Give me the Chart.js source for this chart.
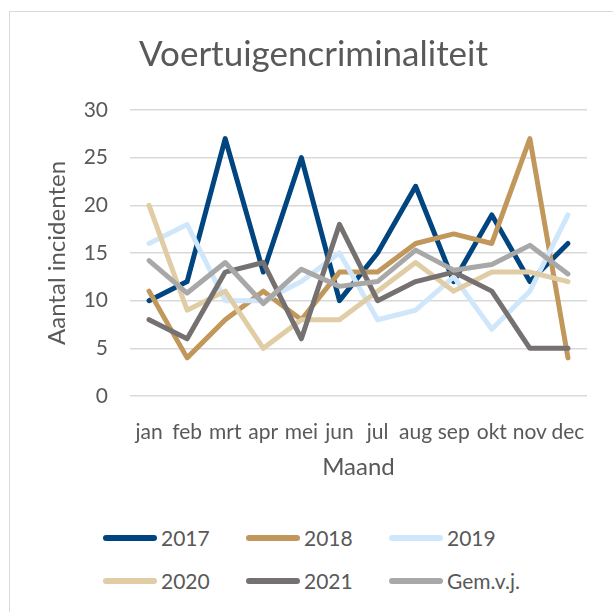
<!DOCTYPE html>
<html>
<head>
<meta charset="utf-8">
<script src="https://cdn.jsdelivr.net/npm/chart.js@4.4.1/dist/chart.umd.min.js"></script>
<style>
  html, body { margin: 0; padding: 0; background: #fff; overflow: hidden; }
  body { width: 613px; height: 612px; position: relative; font-family: Lato, sans-serif; }
  #frame { position: absolute; left: 9px; top: 11px; width: 700px; height: 700px; border: 1px solid #d9d9d9; box-sizing: border-box; }
  #wrap { position: absolute; left: 0; top: 0; width: 613px; height: 490px; }
  #legend { position: absolute; left: 103px; top: 525px; width: 480px; }
  .item { position: absolute; display: flex; align-items: center; font-size: 21px; color: #595959; }
  .item span.sw { display: inline-block; width: 54px; height: 6px; border-radius: 3px; margin-right: 4px; }
</style>
</head>
<body>
<div id="frame"></div>
<div id="wrap"><canvas id="chart"></canvas></div>
<div id="legend"></div>
<script>
const months = ['jan', 'feb', 'mrt', 'apr', 'mei', 'jun', 'jul', 'aug', 'sep', 'okt', 'nov', 'dec'];
const y2017 = [10, 12, 27, 13, 25, 10, 15, 22, 12, 19, 12, 16];
const y2018 = [11, 4, 8, 11, 8, 13, 13, 16, 17, 16, 27, 4];
const y2019 = [16, 18, 10, 10, 12, 15, 8, 9, 12.5, 7, 11, 19];
const y2020 = [20, 9, 11, 5, 8, 8, 11, 14, 11, 13, 13, 12];
const y2021 = [8, 6, 13, 14, 6, 18, 10, 12, 13, 11, 5, 5];
const gemVj = [14.2, 10.8, 14, 9.7, 13.3, 11.5, 12, 15.3, 13.2, 13.8, 15.8, 12.8];

const series = [
  { label: '2017', data: y2017, color: '#00457f' },
  { label: '2018', data: y2018, color: '#c2975b' },
  { label: '2019', data: y2019, color: '#d0e7fb' },
  { label: '2020', data: y2020, color: '#e0cda5' },
  { label: '2021', data: y2021, color: '#767171' },
  { label: 'Gem.v.j.', data: gemVj, color: '#a8a8a8' },
];

const grey = '#595959';
const ctx = document.getElementById('chart').getContext('2d');
new Chart(ctx, {
  type: 'line',
  data: {
    labels: months,
    datasets: series.map((s, i) => ({
      label: s.label,
      data: s.data,
      borderColor: s.color,
      backgroundColor: s.color,
      borderWidth: 5,
      borderJoinStyle: 'round',
      borderCapStyle: 'round',
      pointRadius: 0,
      tension: 0,
      order: series.length - i,
    })),
  },
  options: {
    responsive: true,
    maintainAspectRatio: false,
    animation: false,
    layout: { padding: { left: 40, right: 26, top: 0, bottom: 4 } },
    plugins: {
      legend: { display: false },
      tooltip: { enabled: false },
      title: {
        display: true,
        text: 'Voertuigencriminaliteit',
        color: grey,
        font: { family: 'Lato', size: 35, weight: 'normal' },
        padding: { top: 34, bottom: 34 },
      },
    },
    scales: {
      x: {
        offset: true,
        grid: { display: false },
        border: { display: false },
        ticks: { color: grey, font: { family: 'Lato', size: 21 }, autoSkip: false, maxRotation: 0, padding: 16 },
        title: { display: true, text: 'Maand', color: grey, font: { family: 'Lato', size: 24 }, padding: { top: 4, bottom: 4 } },
        afterFit: s => { s.height = 90; },
      },
      y: {
        min: 0,
        max: 30,
        ticks: { stepSize: 5, color: grey, font: { family: 'Lato', size: 21 }, padding: 22 },
        grid: { color: '#d9d9d9', lineWidth: 1.5, drawTicks: false },
        border: { display: false },
        title: { display: true, text: 'Aantal incidenten', color: grey, font: { family: 'Lato', size: 24 }, padding: { top: 3, bottom: 6 } },
        afterFit: s => { s.width = 90; },
      },
    },
  },
});

const legend = document.getElementById('legend');
series.forEach((s, i) => {
  const el = document.createElement('div');
  el.className = 'item';
  el.style.left = (i % 3) * 143 + 'px';
  el.style.top = Math.floor(i / 3) * 43 + 'px';
  el.innerHTML = '<span class="sw" style="background:' + s.color + '"></span>' + s.label;
  legend.appendChild(el);
});
</script>
</body>
</html>
